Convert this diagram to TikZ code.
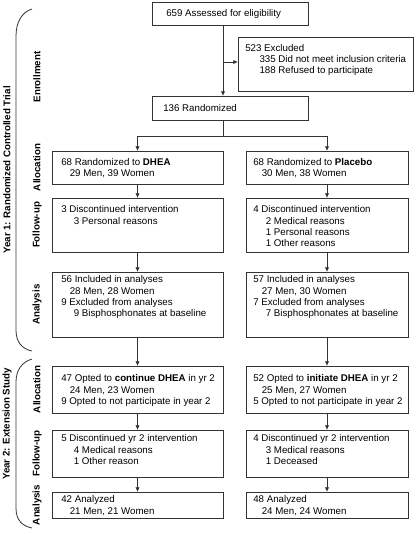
\documentclass[tikz,border=0pt]{standalone}
\usepackage{fontspec}
\setmainfont{Liberation Sans}
\usetikzlibrary{calc,fit,arrows.meta}

\newcommand{\ia}{\hspace*{6.4pt}}
\newcommand{\ib}{\hspace*{9.4pt}}
\newcommand{\ic}{\hspace*{10.7pt}}

\tikzset{
  box/.style={draw=black!80, line width=0.6pt, inner sep=0pt, outer sep=0pt},
  txt/.style={anchor=north west, inner sep=0pt, align=left, font=\fontsize{7.3}{8.5}\selectfont},
  phase/.style={rotate=90, inner sep=0pt, font=\bfseries\fontsize{7.3}{9}\selectfont},
  arr/.style={-{Latex[length=3.5pt,width=3.2pt]}},
  link/.style={draw=black!80, line width=0.6pt},
}

\begin{document}
\begin{tikzpicture}[x=0.75pt, y=-0.75pt]
  \useasboundingbox (0,0) rectangle (415,534);

  % enrollment
  \node[box, fit={(152,2) (308,25)}] (assess) {};
  \node[txt] (assess-t) at ($(assess.north west)+(14,7.5)$) {659 Assessed for eligibility};
  \node[box, fit={(238,37) (413,91)}] (excl) {};
  \node[txt] (excl-t) at ($(excl.north west)+(7,7)$) {523 Excluded\\ \ic335 Did not meet inclusion criteria\\ \ic188 Refused to participate};
  \node[box, fit={(152,96) (308,120)}] (rand) {};
  \node[txt] (rand-t) at ($(rand.north west)+(11,8)$) {136 Randomized};

  % year 1
  \node[box, fit={(52,151) (223,184)}] (al1L) {};
  \node[txt] (al1L-t) at ($(al1L.north west)+(9,7)$) {68 Randomized to \textbf{DHEA}\\ \ia29 Men, 39 Women};
  \node[box, fit={(246,151) (408,184)}] (al1R) {};
  \node[txt] (al1R-t) at ($(al1R.north west)+(7,7)$) {68 Randomized to \textbf{Placebo}\\ \ia30 Men, 38 Women};

  \node[box, fit={(52,198) (223,252)}] (fu1L) {};
  \node[txt] (fu1L-t) at ($(fu1L.north west)+(9,7.5)$) {3 Discontinued intervention\\ \ib3 Personal reasons};
  \node[box, fit={(246,198) (408,252)}] (fu1R) {};
  \node[txt] (fu1R-t) at ($(fu1R.north west)+(7,7.5)$) {4 Discontinued intervention\\ \ib2 Medical reasons\\ \ib1 Personal reasons\\ \ib1 Other reasons};

  \node[box, fit={(52,272) (223,337)}] (an1L) {};
  \node[txt] (an1L-t) at ($(an1L.north west)+(9,3.5)$) {56 Included in analyses\\ \ia28 Men, 28 Women\\ 9 Excluded from analyses\\ \ib9 Bisphosphonates at baseline};
  \node[box, fit={(246,272) (408,337)}] (an1R) {};
  \node[txt] (an1R-t) at ($(an1R.north west)+(7,3.5)$) {57 Included in analyses\\ \ia27 Men, 30 Women\\ 7 Excluded from analyses\\ \ib7 Bisphosphonates at baseline};

  % year 2
  \node[box, fit={(52,366) (223,413)}] (al2L) {};
  \node[txt] (al2L-t) at ($(al2L.north west)+(9,8.5)$) {47 Opted to \textbf{continue DHEA} in yr 2\\ \ia24 Men, 23 Women\\ 9 Opted to not participate in year 2};
  \node[box, fit={(246,366) (408,413)}] (al2R) {};
  \node[txt] (al2R-t) at ($(al2R.north west)+(7,8.5)$) {52 Opted to \textbf{initiate DHEA} in yr 2\\ \ia25 Men, 27 Women\\ 5 Opted to not participate in year 2};

  \node[box, fit={(52,430) (223,477)}] (fu2L) {};
  \node[txt] (fu2L-t) at ($(fu2L.north west)+(9,4.5)$) {5 Discontinued yr 2 intervention\\ \ib4 Medical reasons\\ \ib1 Other reason};
  \node[box, fit={(246,430) (408,477)}] (fu2R) {};
  \node[txt] (fu2R-t) at ($(fu2R.north west)+(7,4.5)$) {4 Discontinued yr 2 intervention\\ \ib3 Medical reasons\\ \ib1 Deceased};

  \node[box, fit={(52,492) (223,518)}] (an2L) {};
  \node[txt] (an2L-t) at ($(an2L.north west)+(9,3.5)$) {42 Analyzed\\ \ia21 Men, 21 Women};
  \node[box, fit={(246,492) (408,518)}] (an2R) {};
  \node[txt] (an2R-t) at ($(an2R.north west)+(7,3.5)$) {48 Analyzed\\ \ia24 Men, 24 Women};

  % connectors
  \coordinate (branch) at (223,62);
  \coordinate (split) at (223,136);
  \draw[link, arr] (assess.south -| split) -- (rand.north -| split);
  \draw[link, arr] (branch) -- (excl.west |- branch);
  \draw[link] (rand.south -| split) -- (split);
  \draw[link, arr] (split) -| (al1L.north);
  \draw[link, arr] (split) -| (al1R.north);
  \draw[link, arr] (al1L) -- (fu1L);
  \draw[link, arr] (al1R) -- (fu1R);
  \draw[link, arr] (fu1L) -- (an1L);
  \draw[link, arr] (fu1R) -- (an1R);
  \draw[link, arr] (an1L) -- (al2L);
  \draw[link, arr] (an1R) -- (al2R);
  \draw[link, arr] (al2L) -- (fu2L);
  \draw[link, arr] (al2R) -- (fu2R);
  \draw[link, arr] (fu2L) -- (an2L);
  \draw[link, arr] (fu2R) -- (an2R);

  % phase labels
  \node[phase] (enrol) at (37,77) {Enrollment};
  \node[phase] (alloc1) at (37,167.5) {Allocation};
  \node[phase] (follow1) at (37,225) {Follow-up};
  \node[phase] (anal1) at (37,304.5) {Analysis};
  \node[phase] (alloc2) at (37,389.5) {Allocation};
  \node[phase] (follow2) at (37,453.5) {Follow-up};
  \node[phase] (anal2) at (37,505) {Analysis};

  % braces
  \draw[link] (32,9) .. controls (22,12) and (16,22) .. (16,36) -- (16,330)
    .. controls (16,342) and (22,349) .. (32,351);
  \draw[link] (32,359) .. controls (22,362) and (16,370) .. (16,382) -- (16,508)
    .. controls (16,520) and (22,526) .. (32,528);
  \node[phase] (year1) at (7,170) {Year 1: Randomized Controlled Trial};
  \node[phase] (year2) at (7,424) {Year 2: Extension Study};
\end{tikzpicture}
\end{document}
